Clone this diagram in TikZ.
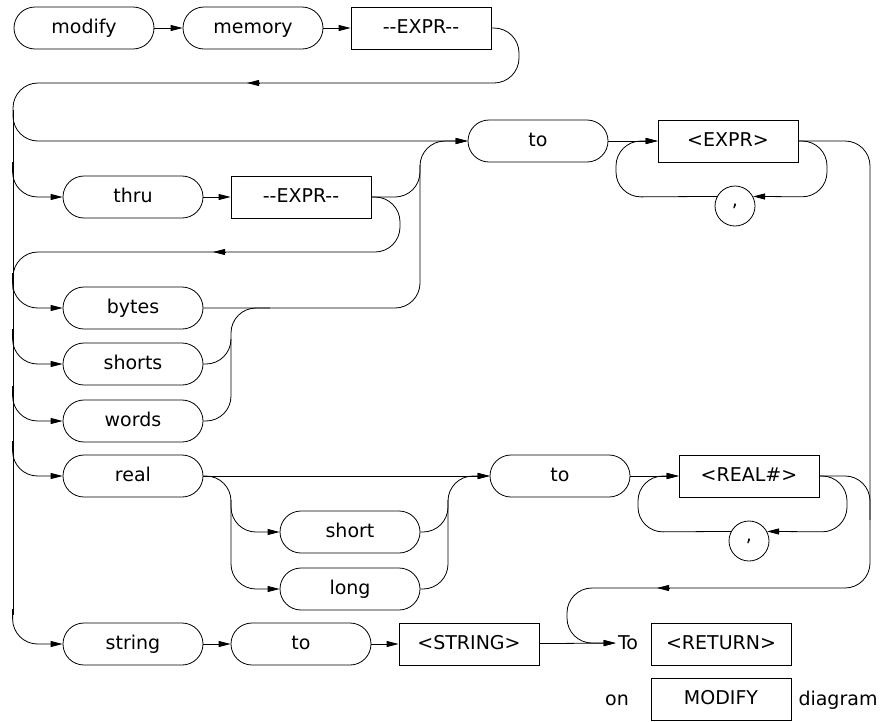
\documentclass[tikz,border=0pt]{standalone}
\usepackage{fontspec}
\setmainfont{DejaVu Sans}
\usetikzlibrary{arrows.meta}

\tikzset{
  kw/.style={draw, rounded corners=21pt, minimum width=140pt, minimum height=42pt, inner sep=0pt, text height=14pt, text depth=4pt},
  arg/.style={draw, rectangle, minimum width=140pt, minimum height=42pt, inner sep=0pt, text height=14pt, text depth=4pt},
  sep/.style={draw, circle, minimum size=40pt, inner sep=0pt},
  arr/.style={-{Triangle[length=12pt,width=6pt]}},
  rc/.style={rounded corners=25pt}
}

\begin{document}
\begin{tikzpicture}[x=1pt, y=-1pt, line width=0.8pt, font=\fontsize{19}{22}\selectfont]
   \useasboundingbox (0,0) rectangle (892,721);
   % first line
   \node[kw]  (modify) at (84,28)  {modify};
   \node[kw]  (memory) at (253,28) {memory};
   \node[arg] (exprA)  at (421,28) {-{}-EXPR-{}-};
   \draw[arr] (modify) -- (memory);
   \draw[arr] (memory) -- (exprA);

   % to <EXPR> loop
   \node[kw]  (toA)    at (538,141) {to};
   \node[arg] (exprB)  at (728,141) {<EXPR>};
   \node[sep] (commaA) at (735,206) {,};
   \draw[arr] (toA) -- (exprB);
   \draw[arr,rc] (exprB.east) -- (827,141) -- (827,197) -- (commaA.28);
   \draw[arr,rc] (commaA.152) -- (616,197) -- (616,141) -- (exprB.west);

   % thru
   \node[kw]  (thru)   at (133,197) {thru};
   \node[arg] (exprT)  at (301,197) {-{}-EXPR-{}-};
   \draw[arr] (thru) -- (exprT);

   % sizes
   \node[kw] (bytes)  at (133,308) {bytes};
   \node[kw] (shorts) at (133,364) {shorts};
   \node[kw] (words)  at (133,421) {words};

   % real
   \node[kw]  (real)    at (133,476) {real};
   \node[kw]  (short)   at (350,532) {short};
   \node[kw]  (long)    at (350,589) {long};
   \node[kw]  (toR)     at (560,476) {to};
   \node[arg] (realnum) at (749,476) {<REAL\#>};
   \node[sep] (commaR)  at (749,541) {,};
   \draw[arr] (real) -- (toR);
   \draw[arr] (toR) -- (realnum);
   \draw[arr,rc] (real.east) -- (231,476) -- (231,589) -- (long.west);
   \draw[arr,rc] (231,500) |- (short.west);
   \draw[arr,rc] (short.east) -- (448,532) -- (448,476) -- (toR.west);
   \draw[rc] (long.east) -- (448,589) -- (448,500);
   \draw[arr,rc] (realnum.east) -- (847,476) -- (847,532) -- (commaR.28);
   \draw[arr,rc] (commaR.152) -- (638,532) -- (638,476) -- (realnum.west);

   % string
   \node[kw]  (string) at (133,644) {string};
   \node[kw]  (toS)    at (301,644) {to};
   \node[arg] (strng)  at (469,644) {<STRING>};
   \node[inner sep=2pt] (To) at (628,643) {To};
   \node[arg] (ret)    at (721,644) {<RETURN>};
   \node (on)          at (617,700) {on};
   \node[arg] (modbox) at (721,699) {MODIFY};
   \node (diagram)     at (838,700) {diagram};
   \draw[arr] (string) -- (toS);
   \draw[arr] (toS) -- (strng);
   \draw[arr] (strng) -- (To);

   % left bus and branches
   \draw[rc] (exprA.east) -- (519,28) -- (519,83) -- (247,83);
   \draw[arr] (260,83) -- (247,83);
   \draw[arr,rc] (247,83) -- (13,83) -- (13,141) -- (toA.west);
   \draw (13,110) -- (13,615);
   \foreach \b in {thru,bytes,shorts,words,real,string}
     \draw[arr,rc] (\b.west) ++(-50,-35) |- (\b.west);
   \draw[rc] (exprT.east) -- (400,197) -- (400,252) -- (213,252);
   \draw[arr] (226,252) -- (213,252);
   \draw[rc] (213,252) -- (13,252) -- (13,290);

   % joins to the first "to"
   \draw[rc] (exprT.east) -- (420,197) -- (420,165);
   \draw[arr,rc] (bytes.east) -- (420,308) -- (420,141) -- (toA.west);
   \draw[rc] (words.east) -- (231,421) -- (231,308) -- (270,308);
   \draw[rc] (shorts.east) -- (231,364) -- (231,340);

   % right bus back to the end
   \draw[rc] (realnum.east) -- (870,476) -- (870,520);
   \draw[rc] (exprB.east) -- (870,141) -- (870,588) -- (657,588);
   \draw[arr] (670,588) -- (657,588);
   \draw[arr,rc] (657,588) -- (567,588) -- (567,643) -- (To.west);
\end{tikzpicture}
\end{document}
